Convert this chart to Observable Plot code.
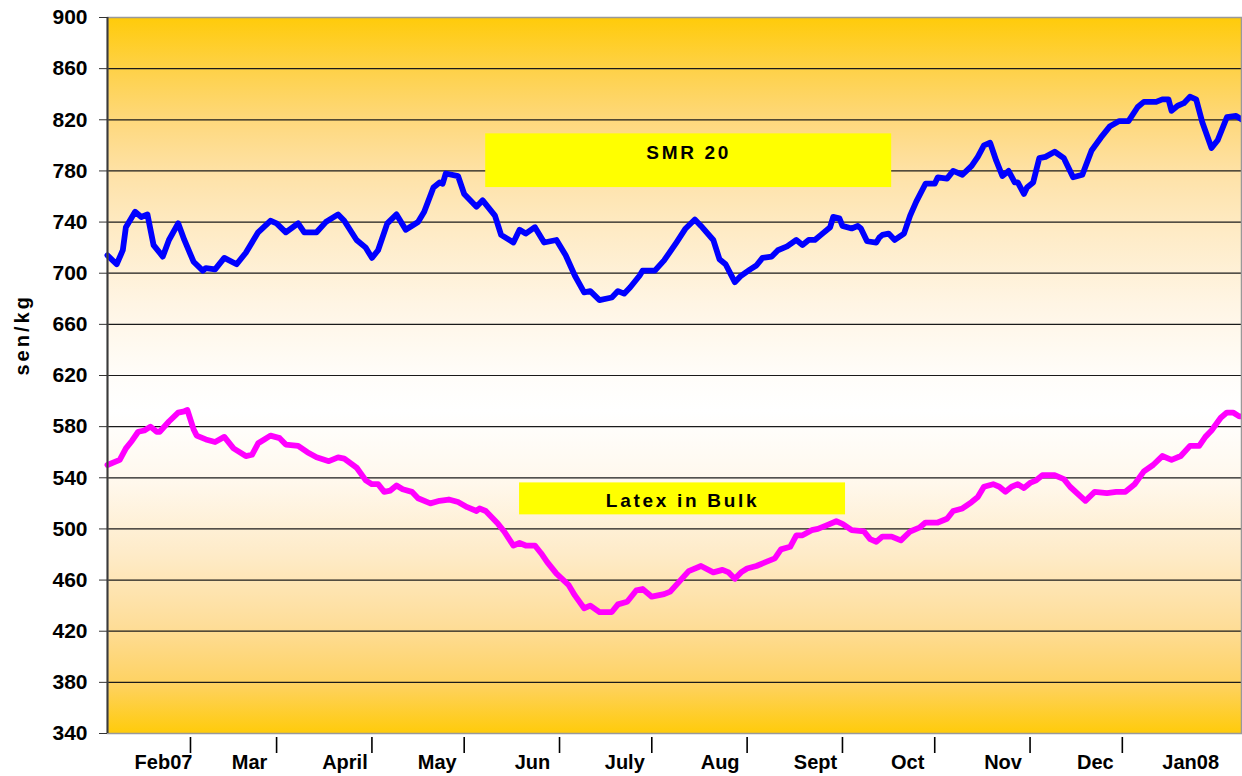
<!DOCTYPE html>
<html>
<head>
<meta charset="utf-8">
<script src="https://cdn.jsdelivr.net/npm/d3@7"></script>
<script src="https://cdn.jsdelivr.net/npm/@observablehq/plot@0.6"></script>
<style>
  html, body { margin: 0; padding: 0; background: #ffffff; }
  #chart { width: 1242px; height: 776px; }
</style>
</head>
<body>
<div id="chart"></div>
<script>
// ---- Data (day number counted from 1 Jan 2007, value in sen/kg) ----
const smrDays = [4,7,9,10,13,15,17,19,22,24,27,29,32,35,36,39,42,46,49,53,57,59,62,66,68,72,75,79,81,85,88,90,92,95,98,101,105,107,110,112,113,114,118,120,124,126,130,132,136,138,140,143,146,150,153,156,159,161,164,168,170,172,174,177,178,182,185,189,192,195,197,201,203,205,208,210,213,215,217,220,222,225,228,230,232,234,236,239,240,242,243,246,248,249,251,254,255,256,258,260,263,265,267,270,273,274,277,279,282,285,287,289,291,293,295,297,299,300,302,303,305,307,309,312,315,318,321,324,327,330,333,336,339,341,345,347,349,350,352,354,356,358,360,363,365,368,371,373];
const smrValues = [714,707,718,736,748,744,746,722,713,726,739,726,709,702,704,703,712,707,716,732,741,739,732,739,732,732,740,746,741,726,720,712,718,739,746,734,740,748,767,771,770,778,776,762,752,757,745,730,724,734,731,736,724,726,714,698,685,686,679,681,686,684,689,698,702,702,710,724,735,742,737,726,711,707,693,698,703,706,712,713,718,721,726,722,726,726,730,736,744,743,737,735,737,735,725,724,728,730,731,726,731,745,756,770,770,775,774,780,777,784,791,800,802,788,776,780,771,771,762,767,771,790,791,795,790,775,777,796,806,815,819,819,830,834,834,836,836,827,831,833,838,836,818,798,804,822,823,820];

const latexDays = [4,8,10,12,14,16,18,20,21,24,27,29,30,32,33,36,39,42,45,49,51,53,55,57,60,62,66,69,72,76,79,81,85,88,90,92,94,96,98,100,103,105,109,112,115,118,121,124,125,127,131,133,136,138,140,143,145,147,150,154,156,159,161,164,168,170,173,176,178,181,185,187,190,193,197,201,204,206,208,210,212,215,218,221,223,226,228,230,233,235,238,241,243,246,250,252,254,256,259,262,265,268,270,274,277,279,282,285,287,289,292,294,296,298,300,302,304,306,308,312,315,317,322,325,329,332,335,338,341,344,347,350,353,356,359,361,363,366,368,370,372,373];
const latexValues = [550,554,563,569,576,577,580,576,576,584,591,592,593,578,573,570,568,572,563,557,558,567,570,573,571,566,565,560,556,553,556,555,548,538,535,535,529,530,534,531,529,524,520,522,523,521,517,514,516,514,504,498,487,489,487,487,481,474,465,456,448,438,440,435,435,441,443,452,453,447,449,451,459,467,471,466,468,466,461,466,469,471,474,477,484,486,495,495,499,500,503,506,504,499,498,492,490,494,494,491,498,501,505,505,508,514,516,521,525,533,535,533,529,533,535,532,536,538,542,542,539,533,522,529,528,529,529,535,545,550,557,554,557,565,565,572,577,587,591,591,588,588];

const seriesNames = ["SMR 20", "Latex in Bulk"];
const seriesColors = ["#0000FF", "#FF00FF"];

// label boxes (days and sen/kg)
const boxDay1 = [127, 138];
const boxDay2 = [259, 244];
const boxLow = [767, 511];
const boxHigh = [809, 536];
const boxTextValue = [794, 522];

const yTicks = [340, 380, 420, 460, 500, 540, 580, 620, 660, 700, 740, 780, 820, 860, 900];
const gridValues = [380, 420, 460, 500, 540, 580, 620, 660, 700, 740, 780, 820, 860];
const monthLabels = ["Feb07", "Mar", "April", "May", "Jun", "July", "Aug", "Sept", "Oct", "Nov", "Dec", "Jan08"];
const yLabel = "sen/kg";

// ---- build tables ----
const day0 = Date.UTC(2007, 0, 1);
const toDate = d => new Date(day0 + d * 864e5);
const smr = smrDays.map((d, i) => ({date: toDate(d), value: smrValues[i], series: seriesNames[0]}));
const latex = latexDays.map((d, i) => ({date: toDate(d), value: latexValues[i], series: seriesNames[1]}));
const monthStarts = monthLabels.map((_, i) => new Date(Date.UTC(2007, 1 + i, 1)));
const tickMonths = monthStarts.slice(0, 11);
const monthText = monthStarts.map((d, i) => ({date: d, label: monthLabels[i]}));
const boxes = seriesNames.map((name, i) => ({
  name,
  x1: toDate(boxDay1[i]), x2: toDate(boxDay2[i]),
  xm: toDate((boxDay1[i] + boxDay2[i]) / 2),
  y1: boxLow[i], y2: boxHigh[i], ty: boxTextValue[i]
}));
const xDomain = [toDate(4.02), toDate(372.75)];

const chart = Plot.plot({
  width: 1242,
  height: 776,
  marginTop: 17,
  marginBottom: 43,
  marginLeft: 107,
  marginRight: 1,
  style: {fontFamily: "'Liberation Sans', Arial, sans-serif", fontSize: "20px", background: "transparent", color: "#000", overflow: "visible"},
  x: {type: "utc", domain: xDomain, axis: null},
  y: {domain: [340, 900], axis: null},
  marks: [
    Plot.frame({fill: "url(#bgGrad)", stroke: "none"}),
    Plot.ruleY(gridValues, {stroke: "#1a1a1a", strokeWidth: 1.2}),
    Plot.rect(boxes, {x1: "x1", x2: "x2", y1: "y1", y2: "y2", fill: "#FFFF00"}),
    Plot.text(boxes, {x: "xm", y: "ty", text: "name", fontWeight: "bold", fontSize: 19, fill: "#000"}),
    Plot.line(smr, {x: "date", y: "value", stroke: seriesColors[0], strokeWidth: 5.8, strokeLinejoin: "round", strokeLinecap: "round"}),
    Plot.line(latex, {x: "date", y: "value", stroke: seriesColors[1], strokeWidth: 5.8, strokeLinejoin: "round", strokeLinecap: "round"}),
    Plot.frame({stroke: "#999999", strokeWidth: 1.5}),
    Plot.ruleX([xDomain[0]], {stroke: "#3a3a3a", strokeWidth: 2}),
    Plot.axisY(yTicks, {tickSize: 8, tickPadding: 12, fontSize: 21, fontWeight: "bold", stroke: "#333", tickFormat: d => String(d), label: null}),
    Plot.axisX(tickMonths, {tickSize: 16, dy: 4, stroke: "#000", strokeWidth: 1.6, tickFormat: () => "", label: null}),
    Plot.text(monthText, {x: "date", text: "label", frameAnchor: "bottom", lineAnchor: "middle", dy: 29, dx: -27, fontWeight: "bold", fontSize: 20, fill: "#000"}),
    Plot.text([yLabel], {frameAnchor: "left", dx: -85, rotate: -90, fontWeight: "bold", fontSize: 20, fill: "#000"})
  ]
});

// gradient definition for the plot background
const svgEl = chart.tagName.toLowerCase() === "svg" ? chart : chart.querySelector("svg");
const defs = d3.select(svgEl).insert("defs", ":first-child");
const grad = defs.append("linearGradient").attr("id", "bgGrad").attr("x1", 0).attr("y1", 0).attr("x2", 0).attr("y2", 1);
[[0, "#FFCB0A"], [0.08, "#FED24E"], [0.15, "#FED980"], [0.22, "#FEE2A8"], [0.3, "#FEEBC6"], [0.4, "#FFF5E4"],
 [0.5, "#FFFDF9"], [0.55, "#FFFFFF"], [0.65, "#FFF8EC"], [0.75, "#FEEBC8"], [0.85, "#FEDD98"], [0.93, "#FED262"], [1, "#FFCB0A"]]
  .forEach(([o, c]) => grad.append("stop").attr("offset", o).attr("stop-color", c));

// letter spacing for the bold annotation texts
d3.select(svgEl).selectAll("text").each(function() {
  const t = this.textContent;
  if (seriesNames.includes(t)) this.setAttribute("letter-spacing", "2.7");
  if (t === yLabel) this.setAttribute("letter-spacing", "3");
});

document.getElementById("chart").appendChild(chart);
</script>
</body>
</html>
